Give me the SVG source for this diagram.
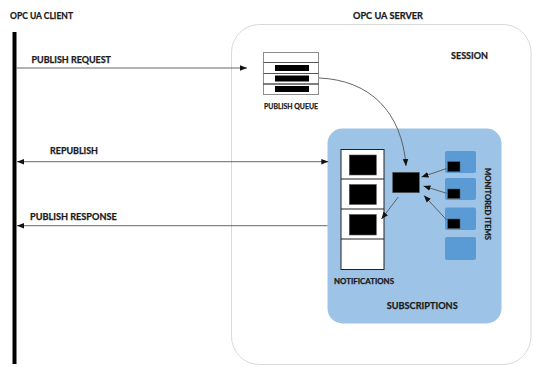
<svg xmlns="http://www.w3.org/2000/svg" width="533" height="367" viewBox="0 0 533 367">
  <defs>
    <marker id="ah" viewBox="0 0 10 10" refX="10" refY="5" markerWidth="7" markerHeight="7" markerUnits="userSpaceOnUse" orient="auto-start-reverse">
      <path d="M0,1 L10,5 L0,9 Z" fill="#111"/>
    </marker>
    <style>
      .lbl { font-family: Lato, "Liberation Sans", sans-serif; font-weight: bold; fill: #1a1a1a; stroke: #1a1a1a; stroke-width: 0.25; }
      .conn { fill: none; stroke: #555; stroke-width: 0.9; }
      .blk { fill: #000; stroke: #555; stroke-width: 0.6; }
      .mon { fill: #5b9bd5; }
    </style>
  </defs>
  <rect width="533" height="367" fill="#fff"/>

  <!-- client lifeline -->
  <g id="client">
    <line x1="14.5" y1="32" x2="14.5" y2="364" stroke="#000" stroke-width="4"/>
    <text class="lbl" x="10" y="18.5" font-size="9.5" textLength="63" lengthAdjust="spacingAndGlyphs">OPC UA CLIENT</text>
  </g>

  <!-- server session -->
  <g id="session">
    <rect x="231.5" y="24.5" width="299.5" height="340" rx="28" fill="#fff" stroke="#d9d9d9" stroke-width="1"/>
    <text class="lbl" x="353" y="18.5" font-size="9.5" textLength="70" lengthAdjust="spacingAndGlyphs">OPC UA SERVER</text>
    <text class="lbl" x="451" y="59" font-size="9.5" textLength="37" lengthAdjust="spacingAndGlyphs">SESSION</text>
  </g>

  <!-- publish queue -->
  <g id="publish-queue">
    <rect x="263.5" y="52.5" width="55" height="42" fill="#fff" stroke="#8c8c8c" stroke-width="1"/>
    <line x1="263.5" y1="62.5" x2="318.5" y2="62.5" stroke="#555" stroke-width="1"/>
    <line x1="263.5" y1="73.5" x2="318.5" y2="73.5" stroke="#555" stroke-width="1"/>
    <line x1="263.5" y1="84" x2="318.5" y2="84" stroke="#000" stroke-width="1"/>
    <rect x="275" y="65" width="34" height="6" fill="#000"/>
    <rect x="275" y="75.5" width="34" height="6" fill="#000"/>
    <rect x="275" y="86" width="34" height="6" fill="#000"/>
    <text class="lbl" x="264" y="109" font-size="7.5" textLength="54" lengthAdjust="spacingAndGlyphs">PUBLISH QUEUE</text>
  </g>

  <!-- subscription -->
  <g id="subscription">
    <rect x="327.5" y="128.5" width="174" height="195" rx="15" fill="#9dc3e6"/>
    <text class="lbl" x="386.7" y="309" font-size="10" textLength="71" lengthAdjust="spacingAndGlyphs">SUBSCRIPTIONS</text>
  </g>

  <!-- notification queue -->
  <g id="notifications">
    <rect x="341" y="149.5" width="43" height="120" fill="#fff" stroke="#222" stroke-width="1"/>
    <line x1="341" y1="179" x2="384" y2="179" stroke="#222" stroke-width="1"/>
    <line x1="341" y1="209" x2="384" y2="209" stroke="#222" stroke-width="1"/>
    <line x1="341" y1="239" x2="384" y2="239" stroke="#222" stroke-width="1"/>
    <rect class="blk" x="349.3" y="155" width="27" height="20"/>
    <rect class="blk" x="349.3" y="184.5" width="27" height="20"/>
    <rect class="blk" x="349.3" y="214.5" width="27" height="20.5"/>
    <text class="lbl" x="334" y="283.7" font-size="7.5" textLength="60" lengthAdjust="spacingAndGlyphs">NOTIFICATIONS</text>
  </g>

  <!-- pending notification -->
  <g id="pending">
    <rect class="blk" x="392.7" y="172.3" width="26.6" height="20.4"/>
  </g>

  <!-- monitored items -->
  <g id="monitored-items">
    <rect class="mon" x="445" y="151" width="31" height="22" rx="2"/>
    <rect class="mon" x="445" y="178" width="31" height="22" rx="2"/>
    <rect class="mon" x="445" y="207.5" width="31" height="22.5" rx="2"/>
    <rect class="mon" x="445" y="237" width="31" height="23" rx="2"/>
    <rect class="blk" x="447.7" y="161.7" width="12.3" height="10"/>
    <rect class="blk" x="447.7" y="189" width="12.3" height="9.5"/>
    <rect class="blk" x="447.7" y="219" width="12.3" height="9.5"/>
    <text class="lbl" transform="translate(485.3,168) rotate(90)" font-size="8" textLength="72" lengthAdjust="spacingAndGlyphs">MONITORED ITEMS</text>
  </g>

  <!-- connectors -->
  <g id="connectors">
    <line class="conn" x1="16.5" y1="68" x2="247" y2="68" marker-end="url(#ah)"/>
    <text class="lbl" x="31.5" y="63" font-size="9" textLength="79.5" lengthAdjust="spacingAndGlyphs">PUBLISH REQUEST</text>

    <line class="conn" x1="17" y1="161.7" x2="328.3" y2="161.7" marker-start="url(#ah)" marker-end="url(#ah)"/>
    <text class="lbl" x="50" y="154" font-size="9" textLength="48" lengthAdjust="spacingAndGlyphs">REPUBLISH</text>

    <line class="conn" x1="327.5" y1="225.7" x2="17" y2="225.7" marker-end="url(#ah)"/>
    <text class="lbl" x="30" y="220" font-size="9" textLength="86.7" lengthAdjust="spacingAndGlyphs">PUBLISH RESPONSE</text>

    <path class="conn" d="M319,78 C370,80 402,112 406,166" marker-end="url(#ah)"/>

    <line class="conn" x1="446.7" y1="168.5" x2="421.5" y2="177" marker-end="url(#ah)"/>
    <line class="conn" x1="446.7" y1="193.3" x2="423.5" y2="186" marker-end="url(#ah)"/>
    <line class="conn" x1="446.7" y1="220" x2="424" y2="195.5" marker-end="url(#ah)"/>
    <line class="conn" x1="398.3" y1="197" x2="381.5" y2="219" marker-end="url(#ah)"/>
  </g>
</svg>
